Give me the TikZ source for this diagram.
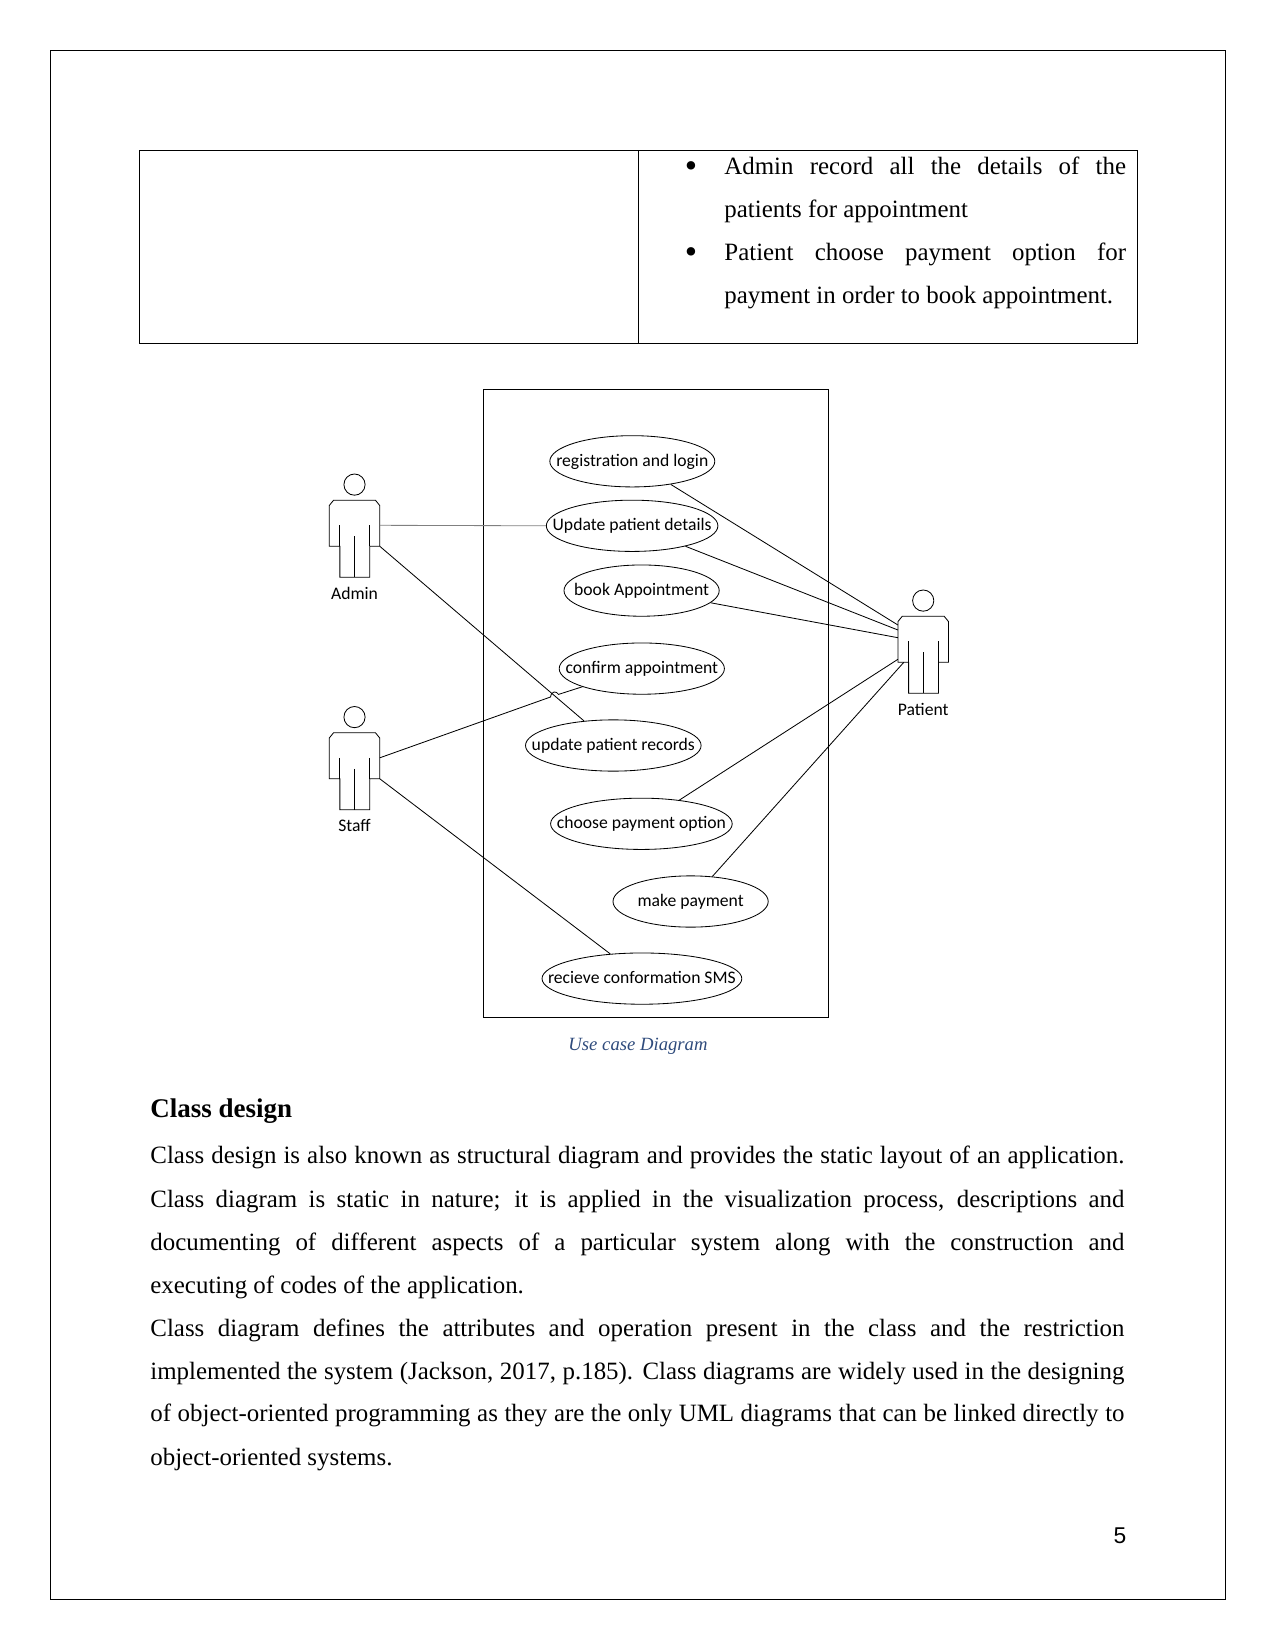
\documentclass[tikz,border=0pt]{standalone}
\usepackage{fontspec}
\setmainfont{Liberation Serif}
\newfontfamily\umlfont{Carlito}
\newfontfamily\pagefont{Liberation Sans}
\usetikzlibrary{shapes.geometric}
\definecolor{captionblue}{HTML}{2F4B7C}
\def\bodywidth{469.3pt}
\def\cellwidth{193.5pt}
\def\actor(#1)(#2,#3)#4{
	\draw[thinline] (#2, #3-15.7) circle [radius=10.6];
	\draw[thinline] (#2-25.3, #3+5.3) -- (#2-21, #3) -- (#2+21, #3) -- (#2+25.3, #3+5.3) -- (#2+25.3, #3+46) -- (#2+15.3, #3+46) -- (#2+15.3, #3+77) -- (#2-14.6, #3+77) -- (#2-14.6, #3+46) -- (#2-25.3, #3+46) -- cycle;
	\draw[thinline] (#2-14.6, #3+25) -- (#2-14.6, #3+46);
	\draw[thinline] (#2+15.3, #3+25) -- (#2+15.3, #3+46);
	\draw[thinline] (#2, #3+36) -- (#2, #3+77);
	\node[actorlabel] (#1-label) at (#2, #3+93) {#4};
	\coordinate (#1-side) at (#2+25.3, #3+25);
	\coordinate (#1-hand) at (#2+25.3, #3+46);
}
\tikzset{
	thinline/.style={line width=0.4pt},
	usecase/.style={ellipse, draw, line width=0.4pt, inner sep=0pt, minimum height=24.7pt, minimum width=#1*0.4818pt, text height=7pt, text depth=2pt, font=\umlfont\fontsize{8.5}{10}\selectfont},
	actorlabel/.style={inner sep=0pt, font=\umlfont\fontsize{8.5}{10}\selectfont},
	textline/.style={anchor=base west, inner sep=0pt, font=\fontsize{12}{14}\selectfont},
	bulletmark/.style={anchor=base, inner sep=0pt, font=\fontsize{17}{19}\selectfont},
}

\begin{document}
\begin{tikzpicture}[x=0.4818pt, y=-0.4818pt]
	%%%%% START %%%%%
	\useasboundingbox (0, 0) rectangle (1275, 1650);
	
	\draw[thinline] (50.5, 50.5) rectangle (1225.5, 1599);
	
	\draw[thinline] (139, 150.5) rectangle (1137, 343.4);
	\draw[thinline] (638, 150.5) -- (638, 343.4);
	
	\node[bulletmark] (bulletone) at (691, 178) {•};
	\node[textline] (cellone) at (724, 174.6) {\makebox[\cellwidth][s]{Admin record all the details of the}};
	\node[textline] (celltwo) at (724, 217.6) {patients for appointment};
	\node[bulletmark] (bullettwo) at (691, 264) {•};
	\node[textline] (cellthree) at (724, 260.7) {\makebox[\cellwidth][s]{Patient choose payment option for}};
	\node[textline] (cellfour) at (724, 303.8) {payment in order to book appointment.};
	
	\draw[thinline] (483.6, 389.5) rectangle (828.6, 1017.4);
	
	\node[usecase=165] (registration) at (632.3, 461.3) {\makebox[0pt]{registration and login}};
	\node[usecase=171.6] (details) at (632.1, 525.8) {\makebox[0pt]{Update patient details}};
	\node[usecase=155.2] (book) at (641.6, 590.6) {\makebox[0pt]{book Appointment}};
	\node[usecase=165.2] (confirm) at (641.8, 668.6) {\makebox[0pt]{confirm appointment}};
	\node[usecase=175.6] (records) at (613.3, 745.5) {\makebox[0pt]{update patient records}};
	\node[usecase=181.6] (choose) at (641.4, 823.8) {\makebox[0pt]{choose payment option}};
	\node[usecase=155.2] (payment) at (690.6, 901.5) {\makebox[0pt]{make payment}};
	\node[usecase=199.8] (sms) at (641.9, 978.6) {\makebox[0pt]{recieve conformation SMS}};
	
	\actor(admin)(354.5, 500.3){Admin}
	\actor(staff)(354.5, 732.8){Staff}
	\actor(patient)(923.2, 616.3){Patient}
	
	\coordinate (patient-a) at (897.9, 625);
	\coordinate (patient-b) at (897.9, 630);
	\coordinate (patient-c) at (897.9, 637.7);
	\coordinate (patient-d) at (897.9, 659.3);
	\coordinate (patient-e) at (903.8, 662.3);
	\coordinate (hop-a) at (550.5, 697);
	\coordinate (hop-b) at (558.5, 694.4);
	
	\draw[line width=0.4pt, color=black!50] (admin-side) -- (details.west);
	\draw[thinline] (admin-hand) -- (records.140);
	\draw[thinline] (staff-side) -- (hop-a) .. controls (551.5, 690.5) and (556.5, 691) .. (hop-b) -- (confirm.197.3);
	\draw[thinline] (staff-hand) -- (sms.142.5);
	\draw[thinline] (registration.-31.7) -- (patient-a);
	\draw[thinline] (details.-21) -- (patient-b);
	\draw[thinline] (book.-10.8) -- (patient-c);
	\draw[thinline] (choose.32) -- (patient-d);
	\draw[thinline] (payment.49.5) -- (patient-e);
	
	\node[inner sep=0pt, color=captionblue, font=\itshape\fontsize{9}{11}\selectfont] (caption) at (638, 1046.5) {Use case Diagram};
	
	\node[textline, font=\bfseries\fontsize{13}{15}\selectfont] (heading) at (150, 1117) {Class design};
	\node[textline] (lineone) at (150, 1163.5) {\makebox[\bodywidth][s]{Class design is also known as structural diagram and provides the static layout of an application.}};
	\node[textline] (linetwo) at (150, 1207.2) {\makebox[\bodywidth][s]{Class diagram is static in nature; it is applied in the visualization process, descriptions and}};
	\node[textline] (linethree) at (150, 1250.6) {\makebox[\bodywidth][s]{documenting of different aspects of a particular system along with the construction and}};
	\node[textline] (linefour) at (150, 1293) {executing of codes of the application.};
	\node[textline] (linefive) at (150, 1336) {\makebox[\bodywidth][s]{Class diagram defines the attributes and operation present in the class and the restriction}};
	\node[textline] (linesix) at (150, 1379) {\makebox[\bodywidth][s]{implemented the system (Jackson, 2017, p.185). Class diagrams are widely used in the designing}};
	\node[textline] (lineseven) at (150, 1421.6) {\makebox[\bodywidth][s]{of object-oriented programming as they are the only UML diagrams that can be linked directly to}};
	\node[textline] (lineeight) at (150, 1465) {object-oriented systems.};
	
	\node[inner sep=0pt, font=\pagefont\fontsize{11}{13}\selectfont] (pagenumber) at (1120, 1536) {5};
	
	%%%%% END %%%%%
\end{tikzpicture}
\end{document}
